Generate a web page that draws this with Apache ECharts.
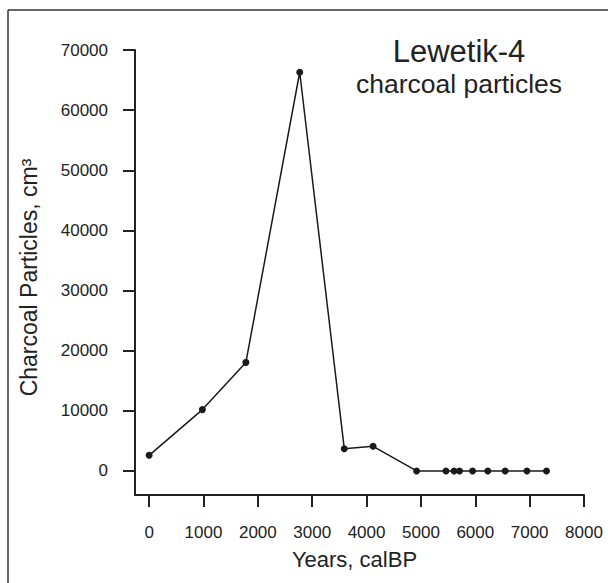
<!DOCTYPE html>
<html>
<head>
<meta charset="utf-8">
<script src="https://cdn.jsdelivr.net/npm/echarts@6/dist/echarts.min.js"></script>
<style>
  html, body { margin: 0; padding: 0; background: #fff; }
  #main { width: 608px; height: 583px; }
</style>
</head>
<body>
<div id="main"></div>
<script>
// years calBP and charcoal particle counts per cm3
const years = [0, 980, 1780, 2770, 3590, 4120, 4920, 5460, 5610, 5710, 5950, 6230, 6550, 6950, 7310];
const particles = [2600, 10200, 18050, 66300, 3700, 4100, 0, 0, 0, 0, 0, 0, 0, 0, 0];
const xTicks = [0, 1000, 2000, 3000, 4000, 5000, 6000, 7000, 8000];
const yTicks = [0, 10000, 20000, 30000, 40000, 50000, 60000, 70000];

const ink = "#222";
const font = "Liberation Sans, Arial, sans-serif";

const chart = echarts.init(document.getElementById("main"), null, { renderer: "svg" });

const options = {
  backgroundColor: "#fff",
  animation: false,
  textStyle: { fontFamily: font, color: ink },
  title: {
    text: "Lewetik-4",
    subtext: "charcoal particles",
    left: 459,
    top: 36,
    textAlign: "center",
    padding: 0,
    itemGap: 3,
    textStyle: { fontFamily: font, fontSize: 31, fontWeight: "normal", color: ink },
    subtextStyle: { fontFamily: font, fontSize: 26.5, color: ink },
  },
  grid: {
    left: 135,
    right: 24,
    top: 50,
    bottom: 88,
    containLabel: false,
  },
  xAxis: {
    type: "value",
    min: -260,
    max: 8000,
    name: "Years, calBP",
    nameLocation: "middle",
    nameGap: 53,
    nameTextStyle: { fontFamily: font, fontSize: 22, color: ink, padding: [0, 10, 0, 0] },
    splitLine: { show: false },
    axisLine: { show: true, onZero: false, lineStyle: { color: ink, width: 2 } },
    axisTick: { show: true, length: 12, customValues: xTicks, lineStyle: { color: ink, width: 2 } },
    axisLabel: {
      customValues: xTicks,
      margin: 29,
      fontSize: 17,
      color: ink,
      fontFamily: font,
      formatter: (v) => String(v),
    },
  },
  yAxis: {
    type: "value",
    min: -4000,
    max: 70000,
    name: "Charcoal Particles, cm³",
    nameLocation: "middle",
    nameRotate: 90,
    nameGap: 95,
    nameTextStyle: { fontFamily: font, fontSize: 23, color: ink, padding: [0, 10, 0, 0] },
    splitLine: { show: false },
    axisLine: { show: true, onZero: false, lineStyle: { color: ink, width: 2 } },
    axisTick: { show: true, length: 12, customValues: yTicks, lineStyle: { color: ink, width: 2 } },
    axisLabel: {
      customValues: yTicks,
      margin: 27,
      fontSize: 17,
      color: ink,
      fontFamily: font,
      formatter: (v) => String(v),
    },
  },
  graphic: [
    { type: "line", shape: { x1: 8, y1: 10, x2: 608, y2: 10 }, style: { stroke: "#333", lineWidth: 1.5 } },
    { type: "line", shape: { x1: 8, y1: 10, x2: 8, y2: 583 }, style: { stroke: "#333", lineWidth: 1.5 } },
  ],
  series: [
    {
      type: "line",
      data: years.map((y, i) => [y, particles[i]]),
      symbol: "circle",
      symbolSize: 7,
      showAllSymbol: true,
      itemStyle: { color: "#1a1a1a" },
      lineStyle: { color: "#1a1a1a", width: 1.5 },
    },
  ],
};

chart.setOption(options);
</script>
</body>
</html>
